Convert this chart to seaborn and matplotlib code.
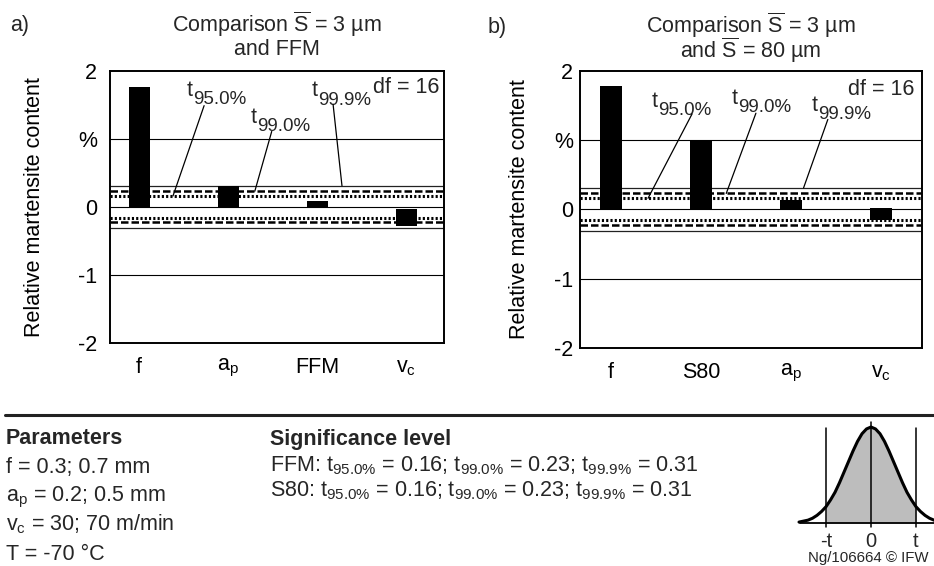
import numpy as np
import matplotlib
matplotlib.use("Agg")
import matplotlib.pyplot as plt
import seaborn as sns
import pandas as pd
from matplotlib.lines import Line2D

# ---------------- data ----------------
cats_a = ["f", "a$_p$", "FFM", "v$_c$"]
low_a = [0.0, 0.0, 0.0, -0.03]
high_a = [1.77, 0.30, 0.09, -0.28]

cats_b = ["f", "S80", "a$_p$", "v$_c$"]
low_b = [0.0, 0.0, 0.0, 0.02]
high_b = [1.79, 1.00, 0.13, -0.16]

t_levels = [0.16, 0.23, 0.31]
t_subs = ["95.0%", "99.0%", "99.9%"]
y_ticks = [2, 1, 0, -1, -2]
y_ticklabels = ["2", "%", "0", "-1", "-2"]

# schematic bell curve of the inset
curve_x = [-1.6, -1.5, -1.4, -1.3, -1.2, -1.1, -1.0, -0.9, -0.8, -0.7, -0.6, -0.5,
           -0.4, -0.3, -0.2, -0.1, 0.0, 0.1, 0.2, 0.3, 0.4, 0.5, 0.6, 0.7, 0.8,
           0.9, 1.0, 1.1, 1.2, 1.3, 1.4, 1.5, 1.6]
curve_y = [0.01, 0.02, 0.03, 0.05, 0.08, 0.12, 0.17, 0.24, 0.32, 0.42, 0.53, 0.64,
           0.75, 0.85, 0.93, 0.98, 1.00, 0.98, 0.93, 0.85, 0.75, 0.64, 0.53, 0.42,
           0.32, 0.24, 0.17, 0.12, 0.08, 0.05, 0.03, 0.02, 0.01]
inset_ticks = [-1, 0, 1]
inset_labels = ["-t", "0", "t"]

# ---------------- style ----------------
sns.set_theme(style="white")
plt.rcParams["font.family"] = ["Liberation Sans", "DejaVu Sans"]
plt.rcParams["mathtext.default"] = "regular"
FS = 15.5
FS_SUB = 13.5

W, H = 934, 566
fig = plt.figure(figsize=(W / 100, H / 100), dpi=100)


def fx(px):
    return px / W


def fy(py):
    return 1 - py / H


def panel(rect, cats, low, high, xlim, width, ypad, ylab_x, texts, leaders, df_pos):
    ax = fig.add_axes(rect)
    d = pd.DataFrame({"cat": cats, "h": np.subtract(high, low)})
    sns.barplot(data=d, x="cat", y="h", order=cats, color="black", saturation=1,
                width=width, errorbar=None, bottom=np.array(low), linewidth=0,
                ax=ax, zorder=3)
    ax.set_ylim(-2, 2)
    ax.set_xlim(*xlim)
    ax.set_yticks(y_ticks)
    ax.set_yticklabels(y_ticklabels)
    ax.set_xticks(range(len(cats)))
    ax.set_xticklabels(cats)
    ax.tick_params(axis="x", length=0, pad=10, labelsize=FS, colors="black")
    ax.tick_params(axis="y", length=0, pad=ypad, labelsize=FS, colors="black")
    ax.set_xlabel("")
    ax.set_ylabel("Relative martensite content", fontsize=FS, color="black")
    ax.yaxis.set_label_coords(ylab_x, 0.5)
    for s in ax.spines.values():
        s.set_visible(True)
        s.set_color("black")
        s.set_linewidth(1.4)
    for yv in [1, 0, -1]:
        ax.axhline(yv, color="black", lw=0.8, zorder=1)
    # significance bands
    for sgn in (1, -1):
        ax.axhline(sgn * t_levels[2], color="#222222", lw=0.9, zorder=2)
        ax.axhline(sgn * t_levels[1], color="black", lw=1.8,
                   ls=(0, (3.0, 1.2)), zorder=2)
        ax.axhline(sgn * t_levels[0], color="black", lw=2.2,
                   ls=(0, (0.7, 0.7)), zorder=2)
    # labels "t" with large subscript
    for (tx, ty), sub in zip(texts, t_subs):
        ax.text(tx, ty, "t", ha="left", va="baseline", fontsize=FS)
        ax.annotate(sub, xy=(tx, ty), xytext=(4.3, -5.8), textcoords="offset points",
                    ha="left", va="baseline", fontsize=FS_SUB)
    for (x1, y1, x2, y2) in leaders:
        ax.plot([x1, x2], [y1, y2], color="black", lw=0.9, zorder=4)
    ax.text(df_pos[0], df_pos[1], "df = 16", ha="right", va="center", fontsize=FS)
    return ax


ax_a = panel([fx(110), fy(342.7), fx(334), 271.7 / H], cats_a, low_a, high_a,
             (-0.328, 3.427), 0.236, 9.5, -0.195,
             [(0.537, 1.63), (1.254, 1.232), (1.943, 1.625)],
             [(0.73, 1.49, 0.38, 0.16), (1.49, 1.11, 1.30, 0.23), (2.18, 1.51, 2.28, 0.31)],
             (3.38, 1.75))

ax_b = panel([fx(579.7), fy(347.7), fx(342), 276.7 / H], cats_b, low_b, high_b,
             (-0.35, 3.454), 0.24, 5.0, -0.146,
             [(0.454, 1.48), (1.344, 1.53), (2.234, 1.42)],
             [(0.90, 1.38, 0.41, 0.16), (1.61, 1.39, 1.28, 0.23), (2.41, 1.30, 2.14, 0.31)],
             (3.37, 1.73))

# titles and panel letters
fig.text(fx(10), fy(31.5), "a)", fontsize=FS, ha="left", va="baseline")
fig.text(fx(488), fy(33), "b)", fontsize=FS, ha="left", va="baseline")
fig.text(fx(277), fy(32), r"Comparison $\overline{S}$ = 3 µm", fontsize=FS,
         ha="center", va="baseline")
fig.text(fx(277), fy(55), "and FFM", fontsize=FS, ha="center", va="baseline")
fig.text(fx(751), fy(32.5), r"Comparison $\overline{S}$ = 3 µm", fontsize=FS,
         ha="center", va="baseline")
fig.text(fx(751), fy(58), r"and $\overline{S}$ = 80 µm", fontsize=FS,
         ha="center", va="baseline")

# separator line
fig.add_artist(Line2D([fx(5), 1.0], [fy(415), fy(415)], color="#222222", lw=2.2))

# parameters block
fig.text(fx(6), fy(444), "Parameters", fontsize=FS, fontweight="bold", va="baseline")
fig.text(fx(6), fy(473), "f = 0.3; 0.7 mm", fontsize=FS, va="baseline")
fig.text(fx(6), fy(501.5), "a$_p$ = 0.2; 0.5 mm", fontsize=FS, va="baseline")
fig.text(fx(6), fy(530), "v$_c$ = 30; 70 m/min", fontsize=FS, va="baseline")
fig.text(fx(6), fy(560), "T = -70 °C", fontsize=FS, va="baseline")

fig.text(fx(270), fy(445), "Significance level", fontsize=FS, fontweight="bold",
         va="baseline")
fig.text(fx(270), fy(471.5),
         r"FFM: t$_{95.0\%}$ = 0.16; t$_{99.0\%}$ = 0.23; t$_{99.9\%}$ = 0.31",
         fontsize=FS, va="baseline")
fig.text(fx(270), fy(496.5),
         r"S80: t$_{95.0\%}$ = 0.16; t$_{99.0\%}$ = 0.23; t$_{99.9\%}$ = 0.31",
         fontsize=FS, va="baseline")

# inset bell curve
ax_in = fig.add_axes([fx(795), fy(560), fx(139), 140 / H])
ax_in.set_xlim(-1.689, 1.4)
ax_in.set_ylim(-0.385, 1.073)
ax_in.axis("off")
cx = np.array(curve_x)
cy = np.array(curve_y)
ax_in.fill_between(cx, 0, cy, where=np.abs(cx) <= 1.0001, color="#bdbdbd", lw=0)
sns.lineplot(x=cx, y=cy, sort=False, color="black", lw=2.2, ax=ax_in)
ax_in.axhline(0, xmin=(-1.58 + 1.689) / 3.089, xmax=1, color="black", lw=1.3)
for xv in inset_ticks:
    top = 1.05 if xv == 0 else 0.99
    ax_in.plot([xv, xv], [-0.04, top], color="black", lw=1.1)
for xv, lab in zip(inset_ticks, inset_labels):
    ax_in.text(xv, -0.19, lab, ha="center", va="center", fontsize=14.5)
fig.text(fx(808), fy(558), "Ng/106664 © IFW", fontsize=10.8, ha="left", va="center")

fig.savefig("out.png", dpi=100)
